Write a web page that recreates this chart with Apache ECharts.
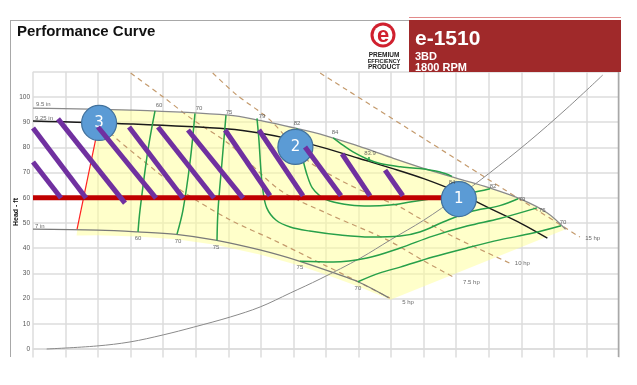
<!DOCTYPE html>
<html><head><meta charset="utf-8">
<script src="https://cdn.jsdelivr.net/npm/echarts@6/dist/echarts.min.js"></script>
<style>html,body{margin:0;padding:0;background:#fff}#c{width:637px;height:385px}</style>
</head><body><div id="c"></div>
<script>
// ---- axis ticks ----
const xMin = 0, xMax = 900, xStep = 50;
const yMin = -10, yMax = 110, yStep = 10;

// ---- impeller curves [flow gpm, head ft] ----
const imp95  = [[0,95.6],[150,94.8],[300,92.8],[350,90.6],[400,87.8],[450,84.6],[500,80.5],[550,76],[600,71.7],[650,67.8],[700,64],[750,59.4],[790,54],[818,47.5]];
const imp925 = [[0,90.5],[150,89.3],[300,87.3],[350,85.6],[400,83],[450,79.6],[500,75.7],[550,71.8],[600,67.6],[650,62.5],[700,56],[750,49.8],[790,44]];
const imp7   = [[0,47.6],[100,47.2],[160,46.5],[220,45.5],[280,43.2],[350,39.2],[410,34.8],[460,30.4],[500,26.6],[546,20.4]];

// ---- efficiency contours ----
const eff60  = [[187.4,94.5],[176.6,79],[164.4,55.2],[161.3,46.5]];
const eff70  = [[248.8,93.5],[241.2,74.2],[230.4,55.2],[221.2,45.6]];
const eff75  = [[296.4,92.8],[290.3,74.2],[284.2,55.2],[282.6,43.1]];
const eff79  = [[344,91.5],[347,82.9],[350,71],[353,63.1],[359,56],[373,51.2],[395,48.4],[425,46.8],[472,45.2],[518,44.4],[564,44.8],[594,46.4],[630,50.4],[671,54.4],[717,56.9],[745,59.6]];
const eff82  = [[405,87.6],[410,80.9],[414.7,75],[421,69],[429,63.9],[441,60.7],[456,58.7],[487,57.1],[517.6,56.7],[548,57.1],[579,58.3],[610,59.5],[640.5,60.7],[671,61.9],[702,63.6]];
const eff84  = [[461,83.8],[476,80.9],[491.5,78.2],[513,75.4],[533,73.6],[564,72.3],[594,71.6],[625,70.2],[643.6,68.5]];
const eff75r = [[410,34.8],[461,34.5],[513,36.1],[564,40.1],[614,44.8],[666.6,48.8],[717,51.8],[774,56]];
const eff70r = [[499,26.7],[533,30.2],[564,32.5],[614,36.5],[666.6,40.1],[717,43.3],[768,46],[811,48.9]];
const bepTick = [[516,76.2],[516,74.4]];

// ---- horsepower lines ----
const hp5  = [[104,92],[118,86],[164,75.8],[230,62.5],[303,51.2],[369,43.3],[450,33],[500,26.6],[548,20.2]];
const hp75 = [[150,109.5],[200,100],[246,90.9],[303,81],[379,63.1],[450,54],[544,43.3],[600,35],[648,28.2]];
const hp10 = [[276,109.5],[313,100.8],[364,90.9],[421,75],[471.6,67],[513,61.9],[564,56.3],[590,52.4],[650,44],[733,34]];
const hp15 = [[441,109.5],[599,83.7],[700,67.2],[840,44.4]];

// ---- system curve ----
const systemCurve = [[21,0],[98,1.2],[149,2.8],[200,5.6],[247,8.7],[303,12.7],[349,16.7],[395,22.2],[441,27.8],[503,36.1],[549,43.3],[600,51.1],[654,60.7],[700,69.6],[760,82],[820,95.5],[875,108.7]];

// ---- shaded operating region ----
const shadeRegion = [[67,45],[68,47.6],[98,85],[104,92.5],[112,95.2],[150,94.8],[300,92.8],[350,90.6],[400,87.8],[450,84.6],[500,80.5],[550,76],[600,71.7],[650,67.8],[700,64],[750,59.4],[790,54],[818,47.5],[549,19.5],[500,24.8],[460,28.6],[410,33],[350,37.4],[280,41.4],[220,43.6],[160,44.6],[100,45.1],[67,45]];

// ---- annotations ----
const redLimit = [[67.7,47.6],[101.5,89.7]];
const opLine = [[0,60],[654,60]];
const purpleSegs = [
  [[0,74.2],[43,59.9]],
  [[0,87.7],[81.4,59.9]],
  [[38.4,91.3],[141.3,57.9]],
  [[99.8,88.1],[188.9,59.9]],
  [[147.5,88.1],[230.4,59.9]],
  [[192,88.1],[278,59.9]],
  [[238,86.9],[322.6,59.9]],
  [[295,86.9],[364,60.8]],
  [[347,86.9],[414.7,60.8]],
  [[417.8,80.2],[473,60.8]],
  [[474.6,77.4],[517.6,60.8]],
  [[540.7,71],[568,60.8]]
];
const markers = [[654,59.5,'1'],[403,80.2,'2'],[101.5,89.7,'3']];

const effLabels = [
 [193.5,96.8,'60'],[255,95.6,'70'],[301,94,'75'],[351.7,92.5,'79'],[405.5,89.7,'82'],[464,86.1,'84'],[517.6,77.6,'83.9'],
 [643.6,66.3,'84'],[706.6,64.7,'82'],[751,59.5,'79'],[782,55.2,'75'],[814,50.4,'70'],
 [161.3,44,'60'],[222.7,42.9,'70'],[281,40.5,'75'],[410,32.5,'75'],[499,24.2,'70']
];
const impLabels = [[4.6,97.2,'9.5 in'],[3,91.7,'9.25 in'],[3,48.8,'7 in']];
const hpLabels = [[567,18.7,'5 hp'],[660.5,26.6,'7.5 hp'],[740,34.1,'10 hp'],[848,44,'15 hp']];

const FONT = 'Liberation Sans, Arial, sans-serif';
function curve(data, color, width, z, dash, smooth){
  return {type:'line', data:data, symbol:'none', showSymbol:false, smooth: smooth===undefined?0.35:smooth,
    lineStyle:{color:color, width:width, type: dash||'solid'}, z:z, silent:true, animation:false};
}
function labelSeries(data, pos, color){
  return {type:'scatter', data:data, symbolSize:0, z:7, silent:true, animation:false,
    label:{show:true, position:pos, distance:0, formatter:p=>p.value[2], fontSize:6, color:color||'#444', fontFamily:FONT}};
}
const green = '#27a04a';
const hpColor = '#c49a6c';
const dash = [5,4];

const chart = echarts.init(document.getElementById('c'), null, {renderer:'canvas'});
chart.setOption({
  animation:false,
  textStyle:{fontFamily:FONT},
  grid:{left:33, right:18, top:71.8, bottom:10.8, containLabel:false},
  xAxis:{type:'value', min:xMin, max:xMax, interval:xStep,
    axisLine:{show:true, onZero:true, lineStyle:{color:'#dcdcdc', width:1.5}}, axisTick:{show:false},
    axisLabel:{fontSize:6.5, color:'#555', margin:1, formatter:v=>(v===xMin||v===xMax)?'':String(v)},
    splitLine:{show:true, lineStyle:{color:'#dcdcdc', width:1.5}}},
  yAxis:{type:'value', min:yMin, max:yMax, interval:yStep,
    axisLine:{show:false}, axisTick:{show:false},
    axisLabel:{fontSize:6.5, color:'#555', margin:3, formatter:v=>(v<0||v>100)?'':String(v)},
    splitLine:{show:true, lineStyle:{color:'#dcdcdc', width:1.5}}},
  series:[
    {type:'custom', z:1, silent:true, data:[[0,0]],
      renderItem:(params, api)=>({type:'polygon', shape:{points: shadeRegion.map(p=>api.coord(p))},
        style:{fill:'rgba(255,255,150,0.5)'}})},
    curve(hp5, hpColor, 1.2, 2, dash, 0.3),
    curve(hp75, hpColor, 1.2, 2, dash, 0.3),
    curve(hp10, hpColor, 1.2, 2, dash, 0.3),
    curve(hp15, hpColor, 1.2, 2, dash, 0.3),
    curve(imp95, '#8a8a8a', 1.3, 3),
    curve(imp925, '#1a1a1a', 1.4, 3),
    curve(imp7, '#7a7a7a', 1.3, 3),
    curve(systemCurve, '#8a8a8a', 1, 3),
    curve(eff60, green, 1.5, 3),
    curve(eff70, green, 1.5, 3),
    curve(eff75, green, 1.5, 3),
    curve(eff79, green, 1.5, 3),
    curve(eff82, green, 1.5, 3),
    curve(eff84, green, 1.5, 3),
    curve(eff75r, green, 1.5, 3),
    curve(eff70r, green, 1.5, 3),
    curve(bepTick, green, 1.5, 3, null, false),
    curve(redLimit, '#ff2020', 1.2, 4, null, false),
    curve(opLine, '#c00000', 5, 4, null, false),
    {type:'scatter', data:markers, symbol:'circle', symbolSize:35, z:5, silent:true, animation:false,
      itemStyle:{color:'#5b9bd5', borderColor:'#41719c', borderWidth:1.2, opacity:1},
      label:{show:true, position:'inside', formatter:p=>p.value[2], fontSize:15, color:'#fff', fontFamily:'DejaVu Sans, sans-serif'}},
    {type:'lines', coordinateSystem:'cartesian2d', z:6, silent:true, animation:false,
      data: purpleSegs.map(c=>({coords:c})),
      lineStyle:{color:'#7030a0', width:5, opacity:1, curveness:0, cap:'butt'}},
    labelSeries(effLabels, 'inside'),
    labelSeries(impLabels, 'right'),
    labelSeries(hpLabels, 'right')
  ],
  graphic:[
    {type:'rect', shape:{x:0,y:357.5,width:637,height:30}, style:{fill:'#fff'}, z:100},
    {type:'line', shape:{x1:10.5,y1:20,x2:10.5,y2:357}, style:{stroke:'#a8a8a8', lineWidth:1}, z:101},
    {type:'line', shape:{x1:10,y1:20.5,x2:410,y2:20.5}, style:{stroke:'#a8a8a8', lineWidth:1}, z:101},
    {type:'line', shape:{x1:618.5,y1:72,x2:618.5,y2:357}, style:{stroke:'#a8a8a8', lineWidth:1.5}, z:101},
    {type:'line', shape:{x1:409,y1:17.5,x2:621,y2:17.5}, style:{stroke:'#e28a8a', lineWidth:1}, z:101},
    {type:'rect', shape:{x:409,y:20,width:212,height:52}, style:{fill:'#a0292a'}, z:102},
    {type:'text', style:{x:415,y:39,text:'e-1510',fill:'#fff',font:'bold 21px '+FONT,textVerticalAlign:'middle'}, z:103},
    {type:'text', style:{x:415,y:57,text:'3BD',fill:'#fff',font:'bold 11px '+FONT,textVerticalAlign:'middle'}, z:103},
    {type:'text', style:{x:415,y:67.5,text:'1800 RPM',fill:'#fff',font:'bold 11px '+FONT,textVerticalAlign:'middle'}, z:103},
    {type:'text', style:{x:17,y:32,text:'Performance Curve',fill:'#111',font:'bold 15px '+FONT,textVerticalAlign:'middle'}, z:103},
    {type:'circle', shape:{cx:383,cy:35,r:12.5}, style:{fill:'#d0202e'}, z:103},
    {type:'circle', shape:{cx:383,cy:35,r:9.5}, style:{fill:'#fff'}, z:103},
    {type:'text', style:{x:383,y:36,text:'e',fill:'#d0202e',font:'bold 22px '+FONT,textAlign:'center',textVerticalAlign:'middle'}, z:104},
    {type:'text', style:{x:384,y:55,text:'PREMIUM',fill:'#222',font:'bold 6.5px '+FONT,textAlign:'center',textVerticalAlign:'middle'}, z:103},
    {type:'text', style:{x:384,y:61,text:'EFFICIENCY',fill:'#222',font:'bold 5.5px '+FONT,textAlign:'center',textVerticalAlign:'middle'}, z:103},
    {type:'text', style:{x:384,y:67,text:'PRODUCT',fill:'#222',font:'bold 6.5px '+FONT,textAlign:'center',textVerticalAlign:'middle'}, z:103},
    {type:'text', rotation:Math.PI/2, x:16, y:212, style:{x:0,y:0,text:'Head - ft',fill:'#111',font:'bold 7px '+FONT,textAlign:'center',textVerticalAlign:'middle'}, z:103}
  ]
});
</script></body></html>
